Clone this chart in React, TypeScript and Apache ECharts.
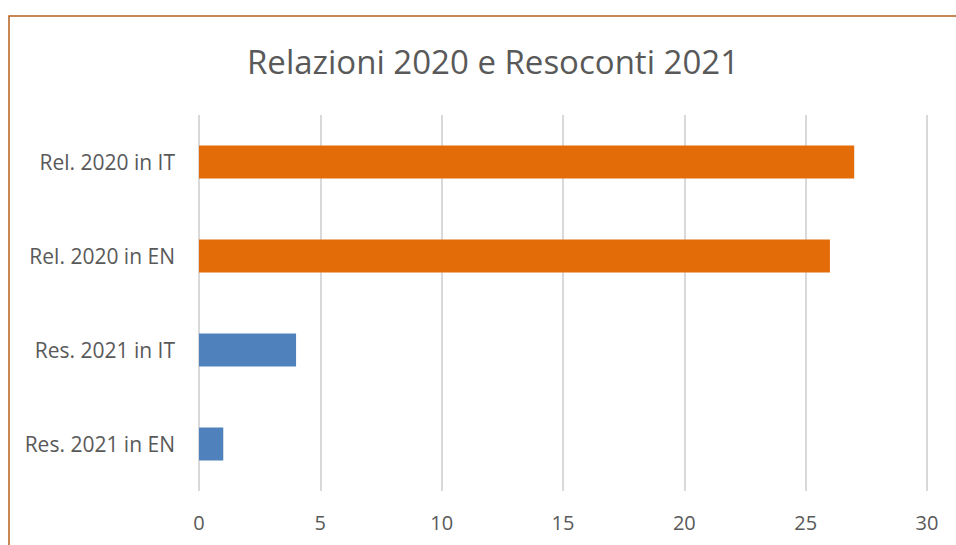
import React, { useEffect, useRef } from "react";
import * as echarts from "echarts";

const categories = ["Rel. 2020 in IT", "Rel. 2020 in EN", "Res. 2021 in IT", "Res. 2021 in EN"];
const values = [27, 26, 4, 1];
const barColors = ["#E36C09", "#E36C09", "#4F81BD", "#4F81BD"];
const titleText = "Relazioni 2020 e Resoconti 2021";

export default function App() {
  const ref = useRef<HTMLDivElement>(null);
  useEffect(() => {
    const chart = echarts.init(ref.current!, null, { renderer: "svg" });
    chart.setOption({
      animation: false,
      backgroundColor: "#ffffff",
      title: {
        text: titleText,
        left: 488,
        top: 40,
        textAlign: "center",
        textStyle: { fontFamily: "Open Sans", fontSize: 33, fontWeight: "normal", color: "#595959" },
      },
      graphic: [
        {
          type: "rect",
          shape: { x: 9, y: 16, width: 1000, height: 600 },
          style: { fill: "none", stroke: "#B5601E", lineWidth: 1.5 },
          silent: true,
        },
      ],
      grid: { left: 199, right: 29, top: 115, height: 376, containLabel: false },
      xAxis: {
        type: "value",
        min: 0,
        max: 30,
        interval: 5,
        axisLine: { show: false },
        axisTick: { show: false },
        axisLabel: { margin: 21, fontFamily: "Open Sans", fontSize: 20, color: "#595959" },
        splitLine: { show: true, lineStyle: { color: "#D9D9D9", width: 2 } },
      },
      yAxis: {
        type: "category",
        data: categories,
        inverse: true,
        axisLine: { show: false },
        axisTick: { show: false },
        axisLabel: { margin: 24, fontFamily: "Open Sans", fontSize: 21, color: "#595959" },
      },
      series: [
        {
          type: "bar",
          data: values.map((v, i) => ({ value: v, itemStyle: { color: barColors[i] } })),
          barWidth: 33,
        },
      ],
    });
    return () => chart.dispose();
  }, []);
  return <div ref={ref} style={{ position: "fixed", left: 0, top: 0, width: 956, height: 545 }} />;
}
